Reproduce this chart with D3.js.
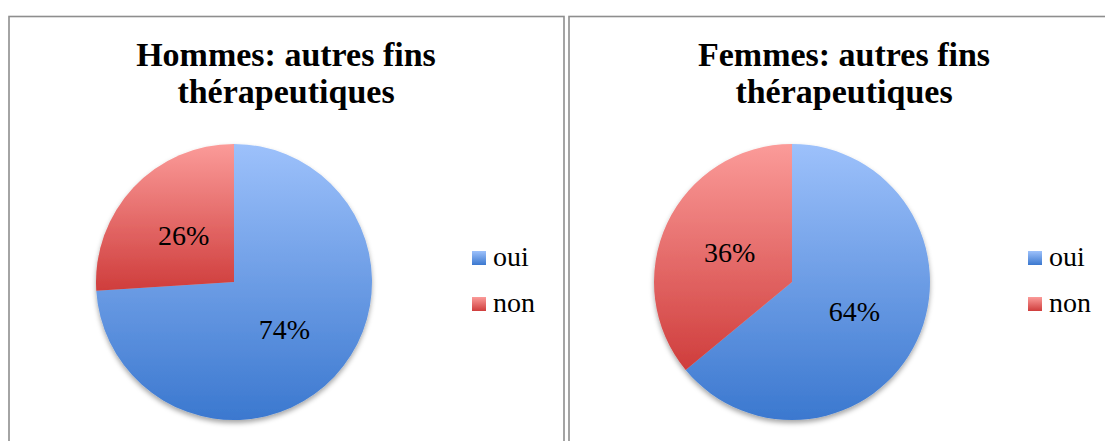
<!DOCTYPE html>
<html>
<head>
<meta charset="utf-8">
<script src="https://cdn.jsdelivr.net/npm/d3@7"></script>
<style>
  body { margin: 0; background: #fff; }
  svg { display: block; }
</style>
</head>
<body>
<div id="chart-area"></div>
<script>
// data
var categories = ["oui", "non"];
var titles = [["Hommes: autres fins", "thérapeutiques"], ["Femmes: autres fins", "thérapeutiques"]];
var hommesValues = [74, 26];
var femmesValues = [64, 36];

var width = 1105, height = 441;

var svg = d3.select("#chart-area")
    .append("svg")
        .attr("width", width)
        .attr("height", height);

var defs = svg.append("defs");

// vertical gradients, light at top, dark at bottom (per slice)
var gradColors = { oui: ["#9dc1fb", "#3b78cf"], non: ["#fb9b99", "#cf3d3c"] };
categories.forEach(function(c){
    var lg = defs.append("linearGradient")
        .attr("id", "grad-" + c)
        .attr("x1", 0).attr("y1", 0).attr("x2", 0).attr("y2", 1);
    lg.append("stop").attr("offset", "0%").attr("stop-color", gradColors[c][0]);
    lg.append("stop").attr("offset", "100%").attr("stop-color", gradColors[c][1]);
});

var shadow = defs.append("filter")
    .attr("id", "shadow")
    .attr("x", "-10%").attr("y", "-10%")
    .attr("width", "120%").attr("height", "125%");
shadow.append("feDropShadow")
    .attr("dx", 0).attr("dy", 3)
    .attr("stdDeviation", 2.5)
    .attr("flood-color", "#000")
    .attr("flood-opacity", 0.35);

var panels = [
    { x0: 9, x1: 564, cx: 234, titleX: 286, legendX: 472, title: titles[0], values: hommesValues },
    { x0: 569, x1: 1120, cx: 792, titleX: 844, legendX: 1028, title: titles[1], values: femmesValues }
];

var radius = 138, cy = 282;

var pie = d3.pie().sort(null).value(function(d){ return d.value; });
var arc = d3.arc().innerRadius(0).outerRadius(radius);
var color = d3.scaleOrdinal()
    .domain(categories)
    .range(categories.map(function(c){ return "url(#grad-" + c + ")"; }));

panels.forEach(function(p){
    var g = svg.append("g");

    // panel frame (bottom runs past the window)
    g.append("rect")
        .attr("x", p.x0).attr("y", 16.5)
        .attr("width", p.x1 - p.x0).attr("height", 460)
        .attr("fill", "none")
        .attr("stroke", "#8e8e8e")
        .attr("stroke-width", 1.6);

    // title
    g.selectAll(".title").data(p.title).enter()
        .append("text")
        .attr("x", p.titleX)
        .attr("y", function(d, i){ return 66 + i * 37; })
        .attr("text-anchor", "middle")
        .attr("font-family", "'Liberation Serif', 'DejaVu Serif', serif")
        .attr("font-weight", "bold")
        .attr("font-size", "34px")
        .attr("fill", "#000")
        .text(function(d){ return d; });

    var data = categories.map(function(c, i){ return { cat: c, value: p.values[i] }; });
    var total = d3.sum(p.values);

    var pg = g.append("g")
        .attr("transform", "translate(" + p.cx + "," + cy + ")");

    pg.append("g")
        .attr("filter", "url(#shadow)")
        .selectAll("path")
        .data(pie(data)).enter()
        .append("path")
        .attr("d", arc)
        .attr("fill", function(d){ return color(d.data.cat); });

    pg.selectAll(".lbl")
        .data(pie(data)).enter()
        .append("text")
        .attr("transform", function(d){ return "translate(" + arc.centroid(d) + ")"; })
        .attr("dy", "0.35em")
        .attr("text-anchor", "middle")
        .attr("font-family", "'Liberation Serif', serif")
        .attr("font-size", "28px")
        .attr("fill", "#000")
        .text(function(d){ return Math.round(d.data.value / total * 100) + "%"; });

    // legend
    var lg = g.selectAll(".leg")
        .data(categories).enter()
        .append("g")
        .attr("transform", function(d, i){ return "translate(" + p.legendX + "," + (251 + i * 46) + ")"; });
    lg.append("rect")
        .attr("width", 14).attr("height", 14)
        .attr("fill", function(d){ return color(d); });
    lg.append("text")
        .attr("x", 21).attr("y", 15)
        .attr("font-family", "'Liberation Serif', serif")
        .attr("font-size", "28px")
        .attr("fill", "#000")
        .text(function(d){ return d; });
});
</script>
</body>
</html>
